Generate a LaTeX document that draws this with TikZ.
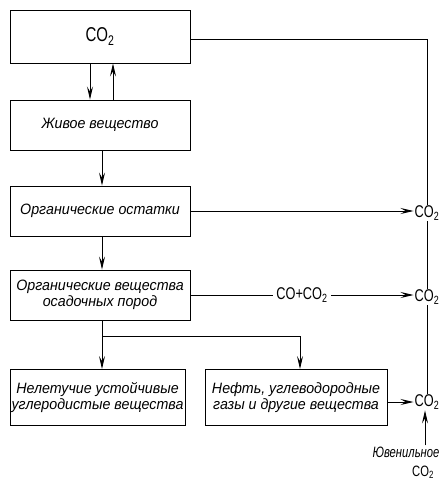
\documentclass[tikz,border=0pt]{standalone}
\usepackage{fontspec}
\setmainfont{Liberation Sans}
\newfontfamily\hand[FakeStretch=0.95]{Liberation Sans}
\newfontfamily\narrow[FakeStretch=0.75]{Liberation Sans}
\usetikzlibrary{arrows.meta}
\tikzset{
  box/.style={draw, line width=0.9pt, align=center, inner sep=1pt, font=\hand\itshape\fontsize{15}{16}\selectfont},
  lbl/.style={inner sep=1pt, font=\narrow\fontsize{17}{18}\selectfont},
  arr/.style={line width=0.9pt, -{Stealth[length=13pt,width=6pt,inset=5pt]}},
  ln/.style={line width=0.9pt}
}
\begin{document}
\begin{tikzpicture}[x=1pt,y=-1pt]
\useasboundingbox (0,0) rectangle (441,484);
\node[box, minimum width=180pt, minimum height=53pt, font=\narrow\fontsize{20}{21}\selectfont] (co2) at (100,36.5) {CO\textsubscript{2}};
\node[box, minimum width=180pt, minimum height=50pt] (live) at (100,125) {Живое вещество};
\node[box, minimum width=180pt, minimum height=50pt] (ost) at (100,211) {Органические остатки};
\node[box, minimum width=180pt, minimum height=50pt] (ovp) at (100,295) {Органические вещества\\осадочных пород};
\node[box, minimum width=175pt, minimum height=56pt] (nel) at (97.5,397.5) {Нелетучие устойчивые\\углеродистые вещества};
\node[box, minimum width=182pt, minimum height=56pt] (neft) at (296,397.5) {Нефть, углеводородные\\газы и другие вещества};
\node[lbl] (r1) at (427,213) {CO\textsubscript{2}};
\node[lbl] (r2) at (427,297) {CO\textsubscript{2}};
\node[lbl] (r3) at (427,402) {CO\textsubscript{2}};
\node[lbl, font=\narrow\itshape\fontsize{15}{16}\selectfont] (juv) at (406,452) {Ювенильное};
\node[lbl, font=\narrow\fontsize{15}{16}\selectfont] (juv2) at (423,472) {CO\textsubscript{2}};
\coordinate (b1) at (102,336);
\coordinate (b2) at (300,336);
% connectors
\draw[arr] (co2.south -| 90,0) -- (live.north -| 90,0);
\draw[arr] (live.north -| 113,0) -- (co2.south -| 113,0);
\draw[arr] (live.south -| 102,0) -- (ost.north -| 102,0);
\draw[arr] (ost.south -| 102,0) -- (ovp.north -| 102,0);
\draw[ln] (ovp.south -| b1) -- (b1) -- (b2);
\draw[arr] (b1) -- (nel.north -| b1);
\draw[arr] (b2) -- (neft.north -| b2);
\draw[ln] (co2.east |- 0,39) -| (r1.north);
\draw[ln] (r1.south) -- (r2.north);
\draw[ln] (r2.south) -- (r3.north);
\draw[arr] (ost.east) -- (r1.west |- ost.east);
\draw[arr] (ovp.east) -- node[lbl, fill=white, inner xsep=3pt] {CO+CO\textsubscript{2}} (r2.west |- ovp.east);
\draw[arr] (neft.east |- r3.west) -- (r3.west);
\draw[arr] (juv.north -| 425,0) -- (r3.south -| 425,0);
\end{tikzpicture}
\end{document}
